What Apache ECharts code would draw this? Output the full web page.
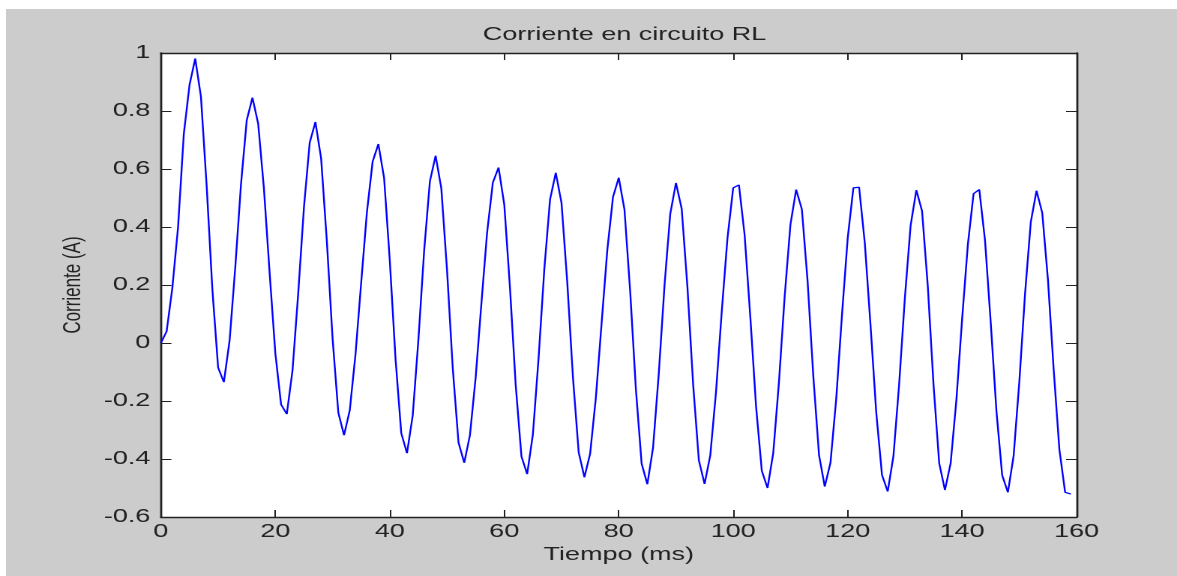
<!DOCTYPE html>
<html><head><meta charset="utf-8">
<script src="https://cdn.jsdelivr.net/npm/echarts@6/dist/echarts.min.js"></script>
<style>
html,body{margin:0;padding:0;background:#fff;width:1177px;height:576px;overflow:hidden;}
#bg{position:absolute;left:6px;top:9px;right:0;bottom:0;background:#cccccc;}
#chart{position:absolute;left:0;top:0;width:785px;height:576px;transform:scaleX(1.4994);transform-origin:0 0;}
</style></head><body>
<div id="bg"></div><div id="chart"></div>
<script>
const chartTitle = 'Corriente en circuito RL';
const xName = 'Tiempo (ms)';
const yName = 'Corriente (A)';

const timeMs = [
  0,1,2,3,4,5,6,7,8,9,10,11,12,13,14,15,16,17,18,19,
  20,21,22,23,24,25,26,27,28,29,30,31,32,33,34,35,36,37,38,39,
  40,41,42,43,44,45,46,47,48,49,50,51,52,53,54,55,56,57,58,59,
  60,61,62,63,64,65,66,67,68,69,70,71,72,73,74,75,76,77,78,79,
  80,81,82,83,84,85,86,87,88,89,90,91,92,93,94,95,96,97,98,99,
  100,101,102,103,104,105,106,107,108,109,110,111,112,113,114,115,116,117,118,119,
  120,121,122,123,124,125,126,127,128,129,130,131,132,133,134,135,136,137,138,139,
  140,141,142,143,144,145,146,147,148,149,150,151,152,153,154,155,156,157,158,159
];

const currentA = [
  0, 0.04, 0.19, 0.40, 0.72, 0.89, 0.981, 0.849, 0.540, 0.183,
  -0.085, -0.135, 0.008, 0.262, 0.548, 0.768, 0.846, 0.756, 0.533, 0.241,
  -0.036, -0.212, -0.245, -0.094, 0.173, 0.469, 0.691, 0.762, 0.636, 0.350,
  0.015, -0.240, -0.318, -0.232, -0.040, 0.209, 0.451, 0.626, 0.686, 0.569,
  0.283, -0.055, -0.311, -0.380, -0.250, 0.013, 0.319, 0.557, 0.646, 0.533,
  0.250, -0.088, -0.343, -0.413, -0.318, -0.119, 0.136, 0.381, 0.553, 0.605,
  0.477, 0.189, -0.146, -0.391, -0.452, -0.315, -0.050, 0.256, 0.495, 0.587,
  0.483, 0.211, -0.119, -0.377, -0.463, -0.382, -0.189, 0.067, 0.320, 0.504,
  0.570, 0.460, 0.178, -0.160, -0.416, -0.487, -0.360, -0.104, 0.199, 0.445,
  0.552, 0.463, 0.194, -0.143, -0.405, -0.486, -0.387, -0.168, 0.109, 0.362,
  0.535, 0.545, 0.372, 0.087, -0.220, -0.441, -0.500, -0.379, -0.133, 0.162,
  0.408, 0.529, 0.461, 0.213, -0.115, -0.387, -0.495, -0.412, -0.193, 0.095,
  0.360, 0.535, 0.537, 0.344, 0.060, -0.241, -0.455, -0.512, -0.390, -0.141,
  0.156, 0.405, 0.527, 0.455, 0.197, -0.143, -0.415, -0.507, -0.414, -0.196,
  0.083, 0.339, 0.515, 0.529, 0.354, 0.070, -0.236, -0.456, -0.515, -0.389,
  -0.133, 0.171, 0.417, 0.525, 0.449, 0.217, -0.092, -0.368, -0.515, -0.521
];

const xMin = 0, xMax = 160, xStep = 20;
const yMin = -0.6, yMax = 1, yStep = 0.2;

const ink = '#222222';
const fontFam = '"Liberation Sans", Arial, sans-serif';

const chart = echarts.init(document.getElementById('chart'), null, {devicePixelRatio: 2});

function boxAxis(base, extra) { return Object.assign({}, base, extra); }

const xBase = {
  type: 'value', min: xMin, max: xMax, interval: xStep,
  splitLine: {show: false},
  axisLine: {show: true, onZero: false, lineStyle: {color: ink, width: 1.4}},
  axisTick: {show: true, inside: true, length: 7, lineStyle: {color: ink, width: 1}},
};
const yBase = {
  type: 'value', min: yMin, max: yMax, interval: yStep,
  splitLine: {show: false},
  axisLine: {show: true, onZero: false, lineStyle: {color: ink, width: 1.4}},
  axisTick: {show: true, inside: true, length: 7, lineStyle: {color: ink, width: 1}},
};

chart.setOption({
  animation: false,
  backgroundColor: 'transparent',
  title: {
    text: chartTitle, left: 411.5, top: 21, textAlign: 'center',
    textStyle: {fontFamily: fontFam, fontSize: 18, fontWeight: 'normal', color: ink}
  },
  grid: {left: 107.3, top: 53, width: 610.7, height: 464, containLabel: false,
         show: true, backgroundColor: '#ffffff', borderWidth: 0},
  xAxis: [
    boxAxis(xBase, {
      position: 'bottom', name: xName, nameLocation: 'middle', nameGap: 27,
      nameTextStyle: {fontFamily: fontFam, fontSize: 18, color: ink},
      axisLabel: {show: true, margin: 6, fontFamily: fontFam, fontSize: 18, color: ink}
    }),
    boxAxis(xBase, {position: 'top', axisLabel: {show: false}})
  ],
  yAxis: [
    boxAxis(yBase, {
      position: 'left', name: yName, nameLocation: 'middle', nameGap: 50, nameRotate: 90,
      nameTextStyle: {fontFamily: fontFam, fontSize: 17, color: ink},
      axisLabel: {show: true, margin: 7, fontFamily: fontFam, fontSize: 18, color: ink}
    }),
    boxAxis(yBase, {position: 'right', axisLabel: {show: false}})
  ],
  series: [{
    type: 'line',
    xAxisIndex: 0, yAxisIndex: 0,
    data: timeMs.map((t, i) => [t, currentA[i]]),
    showSymbol: false,
    lineStyle: {color: '#0000ff', width: 1.2},
    itemStyle: {color: '#0000ff'},
    z: 1
  }]
});
</script>
</body></html>
